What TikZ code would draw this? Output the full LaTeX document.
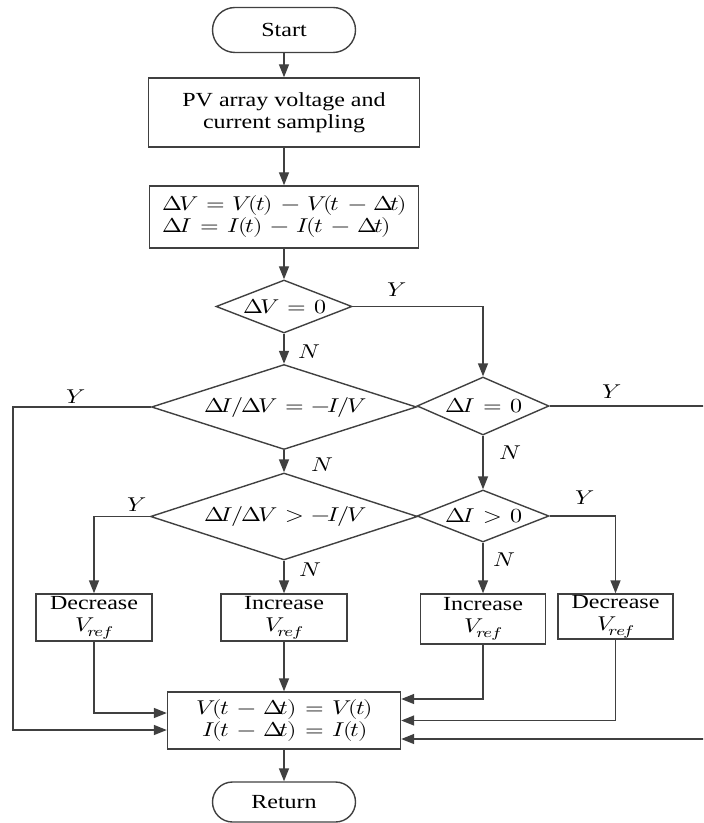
\documentclass[tikz,border=0pt]{standalone}
\usepackage{fontspec}
\usepackage{unicode-math}
\setmainfont[FakeStretch=1.2]{Liberation Serif}
\setmathfont[FakeStretch=1.2]{Latin Modern Math}
\usetikzlibrary{shapes.geometric,arrows.meta}
\definecolor{linegray}{HTML}{404040}
\newcommand{\weq}{\;=\;}
\newcommand{\wmin}{\;-\;}
\tikzset{
        box/.style={draw=linegray, line width=0.7pt, rectangle, inner sep=0pt,
                align=center, font=\fontsize{10}{11}\selectfont},
        term/.style={box, rounded corners=10pt},
        test/.style={draw=linegray, line width=0.7pt, diamond, inner sep=0pt,
                font=\fontsize{10}{11}\selectfont},
        arr/.style={draw=linegray, line width=0.7pt, -{Triangle[length=6.5pt,width=5pt]}},
        lbl/.style={inner sep=0pt, font=\fontsize{10}{11}\selectfont}
}
\begin{document}
\begin{tikzpicture}[x=0.5pt,y=-0.5pt]
        \useasboundingbox (0,0) rectangle (703,823);
        \clip (0,0) rectangle (703,823);
        \node[term, minimum width=71.5pt, minimum height=22.5pt, rounded corners=11.25pt] (start) at (284,30) {Start};
        \node[box, minimum width=135.5pt, minimum height=34.5pt] (smp) at (284,112.5) {PV array voltage and\\current sampling};
        \node[box, minimum width=134.5pt, minimum height=31pt, align=left] (dlt) at (284,217)
                {$\Delta V \weq V(t) \wmin V(t \wmin \Delta t)$\\$\Delta I \weq I(t) \wmin I(t \wmin \Delta t)$};
        \node[test, minimum width=68pt, minimum height=26.5pt, aspect=2.57] (dv) at (284,306.5) {$\Delta V \weq 0$};
        \node[test, minimum width=132.5pt, minimum height=42.5pt, aspect=3.1] (dr) at (284,407) {$\Delta I/\Delta V \weq -I/V$};
        \node[test, minimum width=66pt, minimum height=29pt, aspect=2.28] (dz) at (483,406) {$\Delta I \weq 0$};
        \node[test, minimum width=133.5pt, minimum height=43.5pt, aspect=3.07] (gr) at (284,516.5) {$\Delta I/\Delta V \;>\; -I/V$};
        \node[test, minimum width=66pt, minimum height=26pt, aspect=2.54] (dp) at (483,516) {$\Delta I \;>\; 0$};
        \node[box, minimum width=58pt, minimum height=23.5pt] (dec1) at (94,617.5) {Decrease\\$V_{ref}$};
        \node[box, minimum width=63pt, minimum height=23.5pt] (inc1) at (284,617.5) {Increase\\$V_{ref}$};
        \node[box, minimum width=62.5pt, minimum height=25pt] (inc2) at (483,619) {Increase\\$V_{ref}$};
        \node[box, minimum width=57.5pt, minimum height=22.5pt] (dec2) at (615.5,616.5) {Decrease\\$V_{ref}$};
        \node[box, minimum width=116.5pt, minimum height=28.5pt] (upd) at (284,720.5)
                {$V(t \wmin \Delta t) \weq V(t)$\\$I(t \wmin \Delta t) \weq I(t)$};
        \node[term, minimum width=71.5pt, minimum height=20pt] (ret) at (284,802) {Return};
        \coordinate (lft) at (13,407);
        \coordinate (rgt) at (720,406);
        \draw[arr] (start) -- (smp);
        \draw[arr] (smp) -- (dlt);
        \draw[arr] (dlt) -- (dv);
        \draw[arr] (dv) -- (dr);
        \draw[arr] (dv.east) -| (dz.north);
        \draw[arr] (dr) -- (gr);
        \draw[arr] (dz) -- (dp);
        \draw[arr] (gr.west) -| (dec1.north);
        \draw[arr] (gr) -- (inc1);
        \draw[arr] (dp) -- (inc2);
        \draw[arr] (dp.east) -| (dec2.north);
        \draw[arr] (dec1.south) |- ([yshift=3.75pt]upd.west);
        \draw[arr] (inc1) -- (upd);
        \draw[arr] (inc2.south) |- ([yshift=10.75pt]upd.east);
        \draw[arr] (dec2.south) |- (upd.east);
        \draw[arr] (dr.west) -- (lft) |- ([yshift=-4.75pt]upd.west);
        \draw[arr] (dz.east) -- (rgt) |- ([yshift=-9.25pt]upd.east);
        \draw[arr] (upd) -- (ret);
        \foreach \p [count=\i] in {{395,290},{74,397},{610,392},{135,505},{583,498}}
            \node[lbl] (y\i) at (\p) {$Y$};
        \foreach \p [count=\i] in {{308,352},{321,465},{509,453},{309,570},{503,560}}
            \node[lbl] (n\i) at (\p) {$N$};
\end{tikzpicture}
\end{document}
